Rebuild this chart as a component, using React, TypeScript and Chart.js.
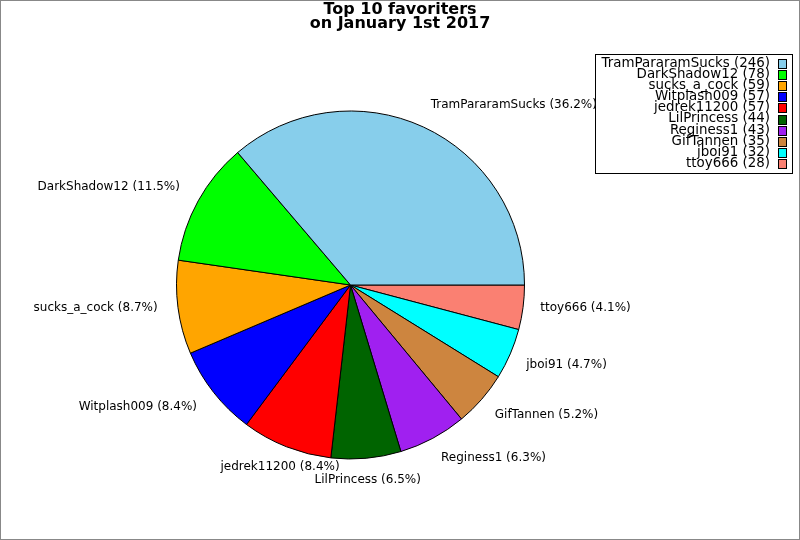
import React, { useEffect, useRef } from "react";
import { Chart, registerables } from "chart.js";

Chart.register(...registerables);

const names = [
  "TramPararamSucks",
  "DarkShadow12",
  "sucks_a_cock",
  "Witplash009",
  "jedrek11200",
  "LilPrincess",
  "Reginess1",
  "GifTannen",
  "jboi91",
  "ttoy666",
];
const counts = [246, 78, 59, 57, 57, 44, 43, 35, 32, 28];
const colors = [
  "#87ceeb",
  "#00ff00",
  "#ffa500",
  "#0000ff",
  "#ff0000",
  "#006400",
  "#a020f0",
  "#cd853f",
  "#00ffff",
  "#fa8072",
];
const titleLines = ["Top 10 favoriters", "on January 1st 2017"];

const FONT = "'DejaVu Sans', sans-serif";

export default function App() {
  const ref = useRef<HTMLCanvasElement>(null);

  useEffect(() => {
    document.body.style.margin = "0";
    const canvas = ref.current!;
    const total = counts.reduce((a, b) => a + b, 0);
    // reversed so that clockwise drawing from 3 o'clock reproduces the
    // counter-clockwise layout of the reference
    const rNames = [...names].reverse();
    const rCounts = [...counts].reverse();
    const rColors = [...colors].reverse();

    const decor = {
      id: "decor",
      beforeDraw(chart: any) {
        const ctx = chart.ctx;
        ctx.save();
        ctx.fillStyle = "#ffffff";
        ctx.fillRect(0, 0, chart.width, chart.height);
        ctx.restore();
      },
      afterDraw(chart: any) {
        const ctx = chart.ctx;
        const meta = chart.getDatasetMeta(0);
        ctx.save();
        // slice labels
        ctx.font = `12px ${FONT}`;
        ctx.fillStyle = "#000";
        ctx.textBaseline = "middle";
        meta.data.forEach((arc: any, i: number) => {
          const mid = (arc.startAngle + arc.endAngle) / 2;
          const r = arc.outerRadius * 1.1;
          const cos = Math.cos(mid);
          const sin = Math.sin(mid); // canvas: positive = downward
          const px = arc.x + r * cos;
          const py = arc.y + r * sin;
          const pct = ((rCounts[i] / total) * 100).toFixed(1);
          const text = `${rNames[i]} (${pct}%)`;
          let x = px;
          if (cos > 0.4) {
            ctx.textAlign = "left";
          } else if (cos < -0.4) {
            ctx.textAlign = "right";
            x = px - 3;
          } else {
            ctx.textAlign = "center";
          }
          let y = py;
          if (sin < -0.2) y = py - 6;
          else if (sin > 0.2) y = py + 4;
          else y = py - 1.5;
          ctx.fillText(text, x, y);
        });

        // legend
        const lx = 595.5, ly = 54.5, lw = 197, lh = 119;
        ctx.fillStyle = "#fff";
        ctx.fillRect(lx, ly, lw, lh);
        ctx.strokeStyle = "#000";
        ctx.lineWidth = 1;
        ctx.strokeRect(lx, ly, lw, lh);
        ctx.font = `13.4px ${FONT}`;
        ctx.textAlign = "right";
        ctx.textBaseline = "middle";
        names.forEach((n, i) => {
          const y = 63.5 + i * 11.1;
          ctx.fillStyle = "#000";
          ctx.fillText(`${n} (${counts[i]})`, 770, y);
          ctx.fillStyle = colors[i];
          ctx.fillRect(778, Math.round(y - 4.5), 8, 9);
          ctx.strokeStyle = "#000";
          ctx.strokeRect(778.5, Math.round(y - 4.5) + 0.5, 8, 9);
        });

        // title
        ctx.font = `bold 16px ${FONT}`;
        ctx.textAlign = "center";
        ctx.fillStyle = "#000";
        titleLines.forEach((t, i) => ctx.fillText(t, 400, 10 + i * 14));

        // outer frame
        ctx.strokeStyle = "#888";
        ctx.strokeRect(0.5, 0.5, chart.width - 1, chart.height - 1);
        ctx.restore();
      },
    };

    const chart = new Chart(canvas, {
      type: "pie",
      data: {
        labels: rNames,
        datasets: [
          {
            data: rCounts,
            backgroundColor: rColors,
            borderColor: "#000",
            borderWidth: 1,
            hoverOffset: 0,
            borderAlign: "center",
          } as any,
        ],
      },
      options: {
        animation: false,
        responsive: false,
        rotation: 90,
        radius: 174,
        layout: { padding: { left: 176, right: 275, top: 111, bottom: 81 } },
        plugins: {
          legend: { display: false },
          tooltip: { enabled: false },
          title: { display: false },
        },
        events: [],
      } as any,
      plugins: [decor],
    });
    return () => chart.destroy();
  }, []);

  return (
    <div style={{ width: 800, height: 540 }}>
      <canvas ref={ref} width={800} height={540} style={{ display: "block" }} />
    </div>
  );
}
